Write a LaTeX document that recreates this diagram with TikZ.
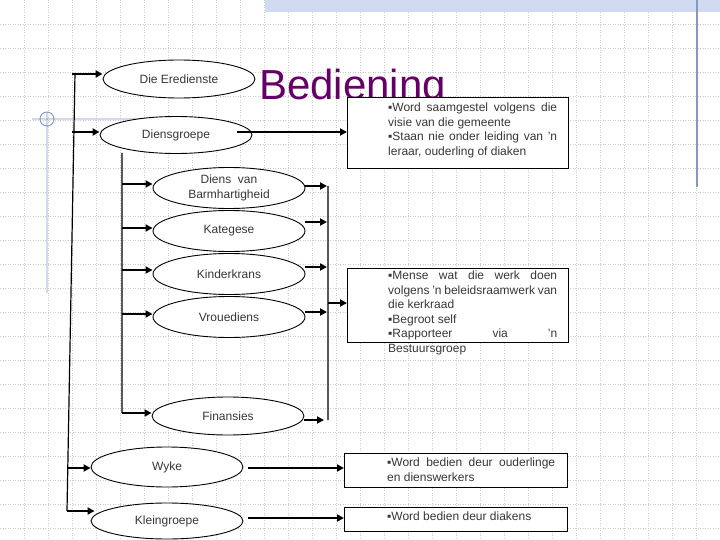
\documentclass[tikz,border=0pt]{standalone}
\usepackage{fontspec}
\setmainfont{Liberation Sans}
\usetikzlibrary{shapes.geometric,arrows.meta}
\definecolor{titlepurple}{RGB}{102,0,102}
\definecolor{slideblue}{RGB}{135,150,195}
\definecolor{bandblue}{RGB}{208,218,240}
\definecolor{gridgray}{RGB}{205,205,205}
\definecolor{labelgray}{RGB}{55,55,55}
\newcommand{\bul}{▪}

\begin{document}
\begin{tikzpicture}[x=1pt,y=-1pt,font=\fontsize{12}{14.5}\selectfont]
        \useasboundingbox (0,0) rectangle (720,540);
        % slide background
        \begin{scope}
            \tikzstyle{every path}=[gridgray, line width=0.6pt, dash pattern=on 1pt off 1.5pt]
            \foreach \gx in {24,48,...,696} \draw (\gx,0) -- (\gx,540);
            \foreach \gy in {24,48,...,528} \draw (0,\gy) -- (720,\gy);
        \end{scope}
        \fill[bandblue] (265,0) rectangle (720,12);
        \draw[slideblue, line width=1.3pt] (697,0) -- (697,187);
        \draw[slideblue, line width=0.9pt] (32,119) -- (200,119) (47,112) -- (47,293) (47,119) circle[radius=7];
        \node[titlepurple, font=\fontsize{42}{42}\selectfont, anchor=base west, inner sep=0pt] (title) at (259,100) {Bediening};
        \begin{scope}
            \tikzstyle{every node}=[draw=black, fill=white, ellipse, line width=0.9pt, minimum width=152pt, minimum height=39pt, inner sep=0pt, text=labelgray, align=center]
            \node[minimum height=38pt] (ered) at (179,79) {Die Eredienste};
            \node[minimum height=37pt] (dgroep) at (176,135) {Diensgroepe};
            \node[minimum height=41pt] (barm) at (229,188) {Diens\ \ van\\Barmhartigheid};
            \node[minimum height=41pt] (kat) at (229,231) {Kategese};
            \node[minimum height=41pt] (kind) at (229,274) {Kinderkrans};
            \node[minimum height=41pt] (vrou) at (229,317) {Vrouediens};
            \node[minimum height=38pt] (fin) at (228,416) {Finansies};
            \node[minimum height=40pt] (wyke) at (167,467) {Wyke};
            \node[minimum height=36pt] (klein) at (167,521) {Kleingroepe};
        \end{scope}
        \begin{scope}
            \tikzstyle{every node}=[draw=black, fill=white, line width=1pt, rectangle, minimum width=221pt, anchor=north west, inner sep=0pt]
            \node[minimum height=71pt] (doel) at (347,97) {};
            \node[minimum height=74pt] (werk) at (347,268) {};
            \node[minimum width=223pt, minimum height=34pt] (wbox) at (344,453) {};
            \node[minimum width=223pt, minimum height=24pt] (kbox) at (344,507) {};
        \end{scope}
        \begin{scope}
            \tikzstyle{every node}=[anchor=north west, inner sep=0pt, align=left, text=labelgray]
            \node (doeltxt) at (388,103) {\makebox[169pt][s]{\bul Word saamgestel volgens die}\\visie van die gemeente\\\makebox[169pt][s]{\bul Staan nie onder leiding van ’n}\\leraar, ouderling of diaken};
            \node (werktxt) at (388,271) {\makebox[169pt][s]{\bul Mense wat die werk doen}\\\makebox[169pt][s]{volgens ’n beleidsraamwerk van}\\die kerkraad\\\bul Begroot self\\\makebox[169pt][s]{\bul Rapporteer via ’n}\\Bestuursgroep};
            \node (wyketxt) at (387,458) {\makebox[168pt][s]{\bul Word bedien deur ouderlinge}\\en dienswerkers};
            \node (kleintxt) at (387,512) {\bul Word bedien deur diakens};
        \end{scope}
        % bus lines
        \coordinate (otop) at (75,73);
        \coordinate (obot) at (67,511);
        \coordinate (itop) at (122,153);
        \coordinate (ibot) at (122,413);
        \coordinate (rtop) at (328,186);
        \coordinate (rbot) at (328,420);
        \draw[line width=1.2pt] (otop) -- (obot) (itop) -- (ibot) (rtop) -- (rbot);
        \coordinate (o1) at (72,74);
        \coordinate (o2) at (72,132);
        \coordinate (o3) at (67,468);
        \coordinate (o4) at (67,511);
        \coordinate (i1) at (122,184);
        \coordinate (i2) at (122,228);
        \coordinate (i3) at (122,270);
        \coordinate (i4) at (122,314);
        \coordinate (i5) at (122,413);
        \coordinate (r1) at (327,186);
        \coordinate (r2) at (327,222);
        \coordinate (r3) at (327,267);
        \coordinate (r4) at (327,312);
        \coordinate (r5) at (324,420);
        \coordinate (rm) at (328,303);
        \coordinate (d1) at (237,132);
        \coordinate (w1) at (248,468);
        \coordinate (k1) at (248,518);
        \begin{scope}
            \tikzstyle{every edge}=[draw, line width=2pt, -{Triangle[length=7pt,width=7pt]}]
            \path
            (o1) edge (o1 -| ered.west)
            (o2) edge (o2 -| dgroep.west)
            (o3) edge (o3 -| wyke.west)
            (o4) edge ([xshift=4pt]o4 -| klein.west)
            (i1) edge (i1 -| barm.west)
            (i2) edge (i2 -| kat.west)
            (i3) edge (i3 -| kind.west)
            (i4) edge (i4 -| vrou.west)
            (i5) edge (i5 -| fin.west)
            (barm.east |- r1) edge (r1)
            (kat.east |- r2) edge (r2)
            (kind.east |- r3) edge (r3)
            (vrou.east |- r4) edge (r4)
            (fin.east |- r5) edge (r5)
            (rm) edge (rm -| werk.west)
            (d1) edge (d1 -| doel.west)
            (w1) edge (w1 -| wbox.west)
            (k1) edge (k1 -| kbox.west)
            ;
        \end{scope}
    \end{tikzpicture}
\end{document}
